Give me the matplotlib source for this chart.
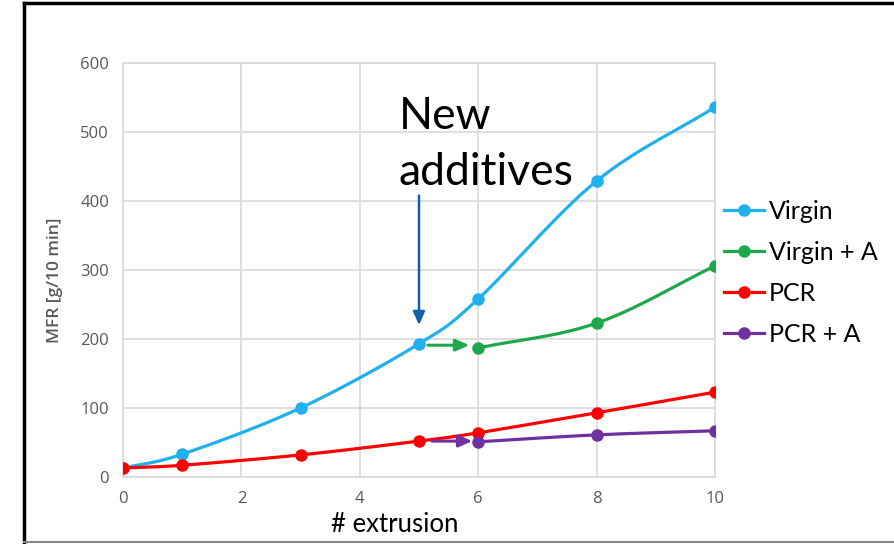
import numpy as np
import matplotlib
matplotlib.use("Agg")
import matplotlib.pyplot as plt
from matplotlib.lines import Line2D

# Melt flow rate after repeated extrusion passes
x_full = [0, 1, 3, 5, 6, 8, 10]
virgin = [13, 33, 100, 193, 258, 429, 536]
pcr = [13, 17, 32, 52, 64, 93, 123]

x_add = [6, 8, 10]
virgin_a = [187, 223, 306]
pcr_a = [51, 61, 67]

series = [
    ("Virgin", x_full, virgin, "#1fb0ee"),
    ("Virgin + A", x_add, virgin_a, "#1ea84b"),
    ("PCR", x_full, pcr, "#ff0000"),
    ("PCR + A", x_add, pcr_a, "#7030a0"),
]

x_ticks = [0, 2, 4, 6, 8, 10]
y_ticks = [0, 100, 200, 300, 400, 500, 600]


def smooth(xs, ys, n=30):
    """Catmull-Rom curve through the points, like a smoothed spreadsheet line."""
    p = np.column_stack([xs, ys]).astype(float)
    p = np.vstack([2 * p[0] - p[1], p, 2 * p[-1] - p[-2]])
    out = []
    t = np.linspace(0, 1, n)[:, None]
    for i in range(1, len(p) - 2):
        p0, p1, p2, p3 = p[i - 1], p[i], p[i + 1], p[i + 2]
        seg = 0.5 * ((2 * p1) + (-p0 + p2) * t
                     + (2 * p0 - 5 * p1 + 4 * p2 - p3) * t ** 2
                     + (-p0 + 3 * p1 - 3 * p2 + p3) * t ** 3)
        out.append(seg if i == 1 else seg[1:])
    out = np.vstack(out)
    return out[:, 0], out[:, 1]


fig = plt.figure(figsize=(8.95, 5.44), dpi=100)
ax = fig.add_axes([0.1374, 0.1232, 0.6615, 0.761])

grid_c = "#d9d9d9"
tick_c = "#595959"
big_font = ["Lato", "DejaVu Sans"]
small_font = ["Open Sans", "DejaVu Sans"]

handles = []
for label, xs, ys, col in series:
    sx, sy = smooth(xs, ys)
    ax.plot(sx, sy, color=col, lw=2.3, zorder=3, solid_capstyle="round")
    ax.plot(xs, ys, "o", color=col, ms=8, zorder=4)
    handles.append(Line2D([], [], color=col, lw=2.3, marker="o", ms=8))

ax.set_xlim(0, 10)
ax.set_ylim(0, 600)
ax.set_xticks(x_ticks)
ax.set_yticks(y_ticks)
ax.grid(True, color=grid_c, lw=1.2)
ax.set_axisbelow(True)
for s in ax.spines.values():
    s.set_color(grid_c)
    s.set_linewidth(1.2)
ax.tick_params(length=0, colors=tick_c, labelsize=12, pad=10)
for lab in ax.get_xticklabels() + ax.get_yticklabels():
    lab.set_family(small_font)

fig.text(55 / 895, 1 - 280 / 544, "MFR [g/10 min]", color=tick_c, fontsize=12.5,
         family=small_font, weight="semibold", rotation=90,
         ha="center", va="center")
fig.text(331 / 895, 1 - 524 / 544, "# extrusion", fontsize=18.5,
         family=big_font, ha="left", va="center", color="black")

# Annotation and arrows marking where additives were introduced
fig.text(399 / 895, 1 - 96 / 544, "New\nadditives", fontsize=32,
         family=big_font, ha="left", va="top", linespacing=1.45)
ax.annotate("", xy=(5.0, 220), xytext=(5.0, 408),
            arrowprops=dict(arrowstyle="-|>,head_length=0.8,head_width=0.35",
                            color="#1060aa", lw=1.8, shrinkA=0, shrinkB=0))
ax.annotate("", xy=(5.85, 191), xytext=(5.15, 191),
            arrowprops=dict(arrowstyle="-|>,head_length=0.8,head_width=0.35",
                            color="#1ea84b", lw=2.2, shrinkA=0, shrinkB=0))
ax.annotate("", xy=(5.9, 52), xytext=(5.22, 52),
            arrowprops=dict(arrowstyle="-|>,head_length=0.8,head_width=0.35",
                            color="#7030a0", lw=2.2, shrinkA=0, shrinkB=0))

fig.legend(handles, [s[0] for s in series], loc="upper left",
           bbox_to_anchor=(724 / 895, 1 - 200 / 544), frameon=False,
           prop={"family": big_font, "size": 18}, handlelength=1.6,
           handletextpad=0.2, labelspacing=0.72, borderpad=0, borderaxespad=0)

# Frame around the figure
fig.add_artist(Line2D([24 / 895, 24 / 895], [0, 1 - 3 / 544], color="black", lw=2.5))
fig.add_artist(Line2D([24 / 895, 1], [1 - 3 / 544, 1 - 3 / 544], color="black", lw=2.5))
fig.add_artist(Line2D([24 / 895, 1], [2 / 544, 2 / 544], color="#888888", lw=1.5))

fig.savefig("out.png", dpi=100, facecolor="white")
